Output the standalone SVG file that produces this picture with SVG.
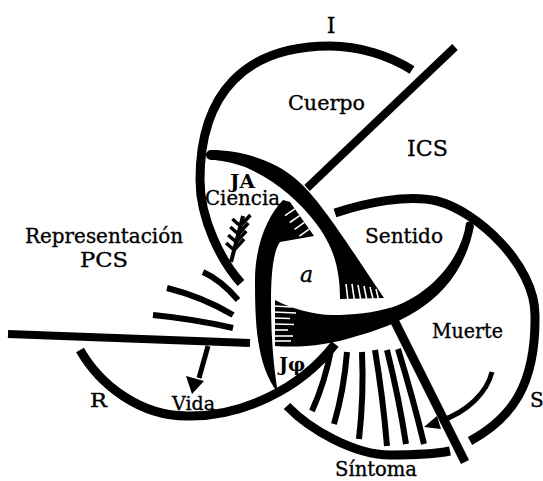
<svg xmlns="http://www.w3.org/2000/svg" width="543" height="481" viewBox="0 0 543 481">
<style>
.ring{fill:none;stroke:#000;stroke-width:9;stroke-linecap:butt}
.line{fill:none;stroke:#000;stroke-width:8}
.blk{fill:#000;stroke:none}
.stripe{fill:none;stroke:#000;stroke-width:6}
.gap{stroke:#fff;stroke-width:1.6}
.thin{fill:none;stroke:#000;stroke-width:5}
.t{font-family:"DejaVu Serif","Liberation Serif",serif;fill:#000;font-size:19.5px;stroke:#000;stroke-width:0.35}
.b{font-weight:bold;stroke-width:0}
</style>
<rect width="543" height="481" fill="#fff"/>

<g id="ring-I">
<path class="ring" d="M241,283 C222,262 200,220 200,180 C200,93 245.5,46 330,46 C360,46 390,56 412,70"/>
</g>

<g id="ring-S">
<path class="ring" d="M335,213 C365,203 407,194 437,201 C477,211 535,265 535,315 C536,385 512,418 470,441"/>
<path class="ring" d="M287,406 C310,430 355,455 390,455 C415,455 435,454 450,451"/>
<path class="blk" d="M283,200 C268,215 255,245 255,280 C255,320 256,365 278,393 C274,370 271,340 271,300 C271,270 274,250 280,242 L314,236 L290,202 Z"/>
<g class="gap">
<line x1="294.8" y1="208.8" x2="285" y2="215.7"/>
<line x1="299.6" y1="215.6" x2="289.8" y2="222.5"/>
<line x1="304.4" y1="222.4" x2="294.6" y2="229.3"/>
<line x1="309.2" y1="229.2" x2="299.4" y2="236.1"/>
</g>
</g>

<g id="ring-R">
<path class="ring" d="M80,350 C100,385 140,416 187,416 C240,417 300,390 335,344"/>
<path class="blk" d="M211,150 C240,150 275,160 297,180 C320,200 345,240 384,298 L340,299 C340,268 333,245 315,222 C298,200 275,180 245,167 C230,162 220,160 211,160 A5,5 0 0 1 211,150 Z"/>
<g class="gap">
<line x1="346" y1="284" x2="348" y2="301"/>
<line x1="352" y1="284" x2="354.5" y2="301"/>
<line x1="358" y1="285" x2="361" y2="301"/>
<line x1="364" y1="286" x2="367" y2="301"/>
<line x1="370" y1="287" x2="373.5" y2="301"/>
<line x1="376" y1="289" x2="379" y2="301"/>
</g>
</g>

<g id="sentido-band">
<path class="blk" d="M466,223 C462,255 435,292 393,307 C373,313 353,315 333,315 C313,315 290,308 275,300 L275,346 C300,348 330,345 357,336 C400,324 460,300 474,226 Q471,219 466,223 Z"/>
<g class="gap">
<line x1="273" y1="306" x2="292" y2="307"/>
<line x1="273" y1="312" x2="296" y2="313"/>
<line x1="273" y1="318" x2="290" y2="318.5"/>
<line x1="273" y1="324" x2="294" y2="324.5"/>
<line x1="273" y1="330" x2="288" y2="330"/>
<line x1="273" y1="336" x2="293" y2="336"/>
<line x1="273" y1="341" x2="291" y2="341"/>
</g>
</g>

<g id="connectors">
<line class="line" x1="455" y1="47" x2="307" y2="188"/>
<line class="line" x1="8" y1="334" x2="250" y2="343"/>
<line class="line" x1="395" y1="322" x2="465" y2="462" style="stroke-width:9"/>
<g id="pcs-stripes">
<path class="stripe" d="M203,272 Q221,280 238,300"/>
<path class="stripe" d="M167,288 Q203,297 233,315"/>
<path class="stripe" d="M153,315 Q194,319 233,328"/>
</g>
<g id="sintoma-stripes">
<path class="stripe" d="M331,350 Q325,382 312,411"/>
<path class="stripe" d="M347,352 Q344,390 334,424"/>
<path class="stripe" d="M362,352 Q364,395 359,439"/>
<path class="stripe" d="M375,350 Q383,398 387,446"/>
<path class="stripe" d="M387,350 Q399,398 406,444"/>
<path class="stripe" d="M398,349 Q413,398 424,444"/>
</g>
<g id="vida-arrow">
<line class="thin" x1="208" y1="346" x2="199" y2="378"/>
<polygon class="blk" points="186,376 204,381 192,394"/>
</g>
<g id="muerte-arrow">
<path class="thin" d="M492,372 C487,392 468,412 440,421"/>
<polygon class="blk" points="424,427 441,429 437,416"/>
</g>
<g id="ja-arrow" style="fill:none;stroke:#000">
<line x1="231" y1="262" x2="243" y2="216" style="stroke-width:4"/>
<polyline points="232.4,219 240.4,226 250.4,215" style="stroke-width:3.5"/>
<polyline points="230.3,227 238.3,234 248.3,223" style="stroke-width:3.5"/>
<polyline points="228.2,235 236.2,242 246.2,231" style="stroke-width:3.5"/>
<polyline points="226.1,243 234.1,250 244.1,239" style="stroke-width:3.5"/>
</g>
</g>

<g id="labels">
<text class="t" x="331" y="33" text-anchor="middle" style="font-size:22px">I</text>
<text class="t" x="288" y="110" textLength="77" lengthAdjust="spacingAndGlyphs" style="font-size:20px">Cuerpo</text>
<text class="t" x="407" y="156" textLength="41" lengthAdjust="spacingAndGlyphs" style="font-size:23px">ICS</text>
<text class="t b" x="230" y="187.5" textLength="25" lengthAdjust="spacingAndGlyphs" style="font-size:19px">JA</text>
<text class="t" x="205" y="205" textLength="75" lengthAdjust="spacingAndGlyphs">Ciencia</text>
<text class="t" x="300" y="282" style="font-size:22px;font-style:italic">a</text>
<text class="t" x="365" y="243" textLength="78" lengthAdjust="spacingAndGlyphs" style="font-size:20px">Sentido</text>
<text class="t" x="432" y="338" textLength="71" lengthAdjust="spacingAndGlyphs">Muerte</text>
<text class="t" x="335" y="476" textLength="82" lengthAdjust="spacingAndGlyphs">Síntoma</text>
<text class="t" x="530" y="407" style="font-size:20px">S</text>
<text class="t b" x="279" y="371" style="font-size:19px">Jφ</text>
<text class="t" x="172" y="410" textLength="43" lengthAdjust="spacingAndGlyphs" style="font-size:19px">Vida</text>
<text class="t" x="90" y="407" textLength="17" lengthAdjust="spacingAndGlyphs" style="font-size:19px">R</text>
<text class="t" x="25" y="243" textLength="158" lengthAdjust="spacingAndGlyphs">Representación</text>
<text class="t" x="80" y="267" textLength="48" lengthAdjust="spacingAndGlyphs">PCS</text>
</g>
</svg>
